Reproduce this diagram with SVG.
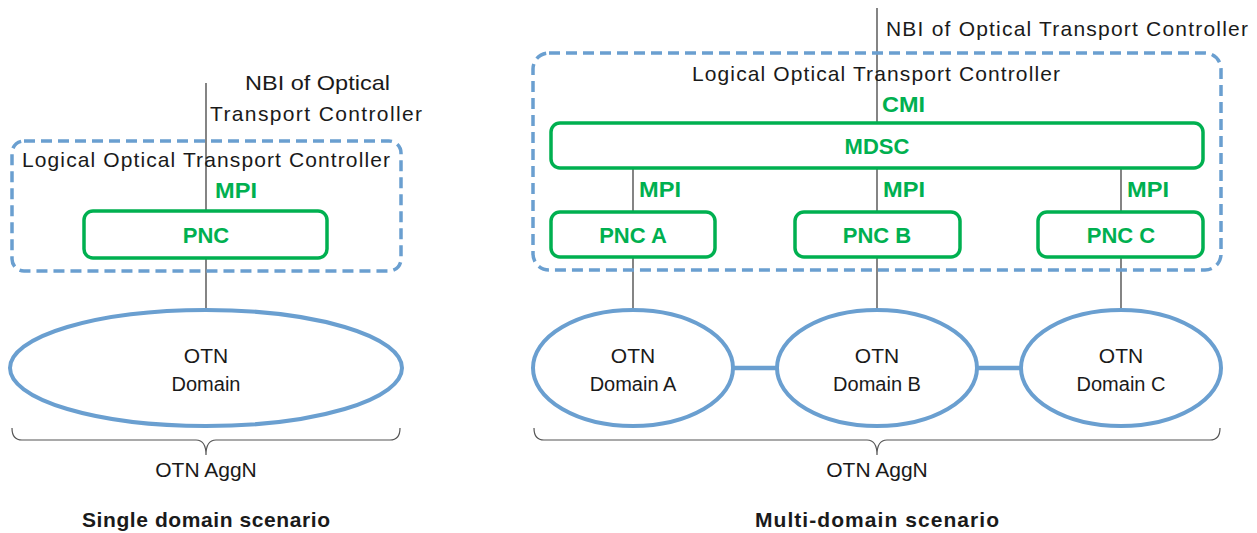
<svg xmlns="http://www.w3.org/2000/svg" width="1257" height="533" viewBox="0 0 1257 533">
<style>
text{font-family:"Liberation Sans",Arial,sans-serif;fill:#1a1a1a}
.lbl{font-size:21px}
.sm{font-size:20px}
.g{font-weight:bold;fill:#00B050;font-size:22px}
.ttl{font-weight:bold;font-size:21px}
.dash{fill:none;stroke:#6A9FD0;stroke-width:3.5;stroke-dasharray:11 6}
.box{fill:#fff;stroke:#00B050;stroke-width:3.5}
.ell{fill:#fff;stroke:#6A9FD0;stroke-width:4}
.ln{stroke:#333;stroke-width:1.2;fill:none}
.link{stroke:#6A9FD0;stroke-width:4.5;fill:none}
.brace{stroke:#555;stroke-width:1.2;fill:none}
</style>
<g id="connectors">
<line class="ln" x1="206" y1="83" x2="206" y2="310"/>
<line class="ln" x1="877" y1="8" x2="877" y2="123"/>
<line class="ln" x1="633" y1="168" x2="633" y2="310"/>
<line class="ln" x1="877" y1="168" x2="877" y2="310"/>
<line class="ln" x1="1121" y1="168" x2="1121" y2="310"/>
<line class="link" x1="733" y1="368" x2="777" y2="368"/>
<line class="link" x1="977" y1="368" x2="1021" y2="368"/>
</g>
<g id="left-controller">
<rect class="dash" x="12" y="141" width="389" height="130" rx="12"/>
<text class="lbl" x="206" y="167" text-anchor="middle" textLength="368" lengthAdjust="spacing">Logical Optical Transport Controller</text>
</g>
<g id="left-nbi">
<text class="lbl" x="245" y="90" textLength="145" lengthAdjust="spacingAndGlyphs">NBI of Optical</text>
<text class="lbl" x="210" y="121" textLength="212" lengthAdjust="spacing">Transport Controller</text>
</g>
<text class="g" x="215" y="198" textLength="42" lengthAdjust="spacingAndGlyphs">MPI</text>
<g id="pnc">
<rect class="box" x="84" y="211" width="243" height="47" rx="9"/>
<text class="g" x="206" y="243" text-anchor="middle">PNC</text>
</g>
<g id="otn-domain">
<ellipse class="ell" cx="206" cy="368" rx="196" ry="58"/>
<text class="lbl" x="206" y="363" text-anchor="middle">OTN</text>
<text class="sm" x="206" y="391" text-anchor="middle">Domain</text>
</g>
<g id="left-aggn">
<path class="brace" d="M12 428 Q12 440 22 440 L196 440 Q206 440 206 455 Q206 440 216 440 L390 440 Q400 440 400 428"/>
<text class="lbl" x="206" y="477" text-anchor="middle">OTN AggN</text>
</g>
<text class="ttl" x="206" y="527" text-anchor="middle" textLength="248" lengthAdjust="spacing">Single domain scenario</text>

<g id="right-controller">
<rect class="dash" x="533" y="53" width="688" height="217" rx="16"/>
<text class="lbl" x="876" y="81" text-anchor="middle" textLength="368" lengthAdjust="spacing">Logical Optical Transport Controller</text>
</g>
<g id="right-nbi">
<text class="lbl" x="886" y="36" textLength="362" lengthAdjust="spacing">NBI of Optical Transport Controller</text>
</g>
<text class="g" x="882" y="112" textLength="43" lengthAdjust="spacingAndGlyphs">CMI</text>
<g id="mdsc">
<rect class="box" x="551" y="123" width="652" height="45" rx="9"/>
<text class="g" x="877" y="154" text-anchor="middle">MDSC</text>
</g>
<text class="g" x="639" y="197" textLength="42" lengthAdjust="spacingAndGlyphs">MPI</text>
<text class="g" x="883" y="197" textLength="42" lengthAdjust="spacingAndGlyphs">MPI</text>
<text class="g" x="1127" y="197" textLength="42" lengthAdjust="spacingAndGlyphs">MPI</text>
<g id="pnc-a">
<rect class="box" x="551" y="212" width="164" height="45" rx="9"/>
<text class="g" x="633" y="243" text-anchor="middle">PNC A</text>
</g>
<g id="pnc-b">
<rect class="box" x="795" y="212" width="165" height="45" rx="9"/>
<text class="g" x="877" y="243" text-anchor="middle">PNC B</text>
</g>
<g id="pnc-c">
<rect class="box" x="1038" y="212" width="165" height="45" rx="9"/>
<text class="g" x="1121" y="243" text-anchor="middle">PNC C</text>
</g>
<g id="otn-domain-a">
<ellipse class="ell" cx="633" cy="368" rx="100" ry="58"/>
<text class="lbl" x="633" y="363" text-anchor="middle">OTN</text>
<text class="sm" x="633" y="391" text-anchor="middle">Domain A</text>
</g>
<g id="otn-domain-b">
<ellipse class="ell" cx="877" cy="368" rx="100" ry="58"/>
<text class="lbl" x="877" y="363" text-anchor="middle">OTN</text>
<text class="sm" x="877" y="391" text-anchor="middle">Domain B</text>
</g>
<g id="otn-domain-c">
<ellipse class="ell" cx="1121" cy="368" rx="100" ry="58"/>
<text class="lbl" x="1121" y="363" text-anchor="middle">OTN</text>
<text class="sm" x="1121" y="391" text-anchor="middle">Domain C</text>
</g>
<g id="right-aggn">
<path class="brace" d="M534 428 Q534 440 544 440 L867 440 Q877 440 877 455 Q877 440 887 440 L1210 440 Q1220 440 1220 428"/>
<text class="lbl" x="877" y="477" text-anchor="middle">OTN AggN</text>
</g>
<text class="ttl" x="877" y="527" text-anchor="middle" textLength="244" lengthAdjust="spacing">Multi-domain scenario</text>
</svg>
